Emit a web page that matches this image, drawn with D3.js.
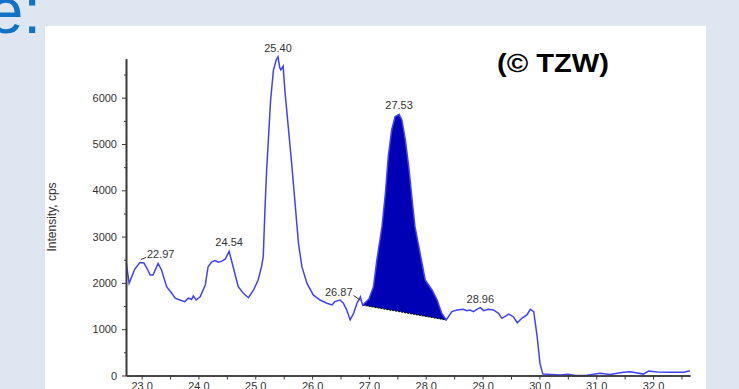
<!DOCTYPE html>
<meta charset="utf-8">
<head>
    <script src="https://d3js.org/d3.v7.min.js"></script>
    <style>
        body { margin: 0; background: #dee6f1; }
        svg { display: block; }
        .tick text { font-family: "Liberation Sans", Arial, sans-serif; font-size: 11px; fill: #333; }
    </style>
</head>
<body>
    <div id="chart"></div>
    <script>

    // retention time (min) and intensity (cps)
    var rt = [22.73, 22.78, 22.88, 22.97, 23.04, 23.10, 23.15, 23.20, 23.29, 23.35, 23.44, 23.53, 23.59, 23.65,
              23.71, 23.76, 23.82, 23.88, 23.91, 23.96, 24.03, 24.12, 24.17, 24.23, 24.29, 24.35, 24.41, 24.47,
              24.54, 24.61, 24.70, 24.79, 24.88, 24.97, 25.05, 25.11, 25.14, 25.17, 25.20, 25.23, 25.27, 25.32,
              25.37, 25.40, 25.43, 25.45, 25.49, 25.52, 25.58, 25.64, 25.70, 25.76, 25.82, 25.91, 26.02, 26.14,
              26.26, 26.35, 26.40, 26.49, 26.55, 26.61, 26.67, 26.73, 26.79, 26.85, 26.87, 26.89, 27.00, 27.08,
              27.14, 27.23, 27.29, 27.34, 27.40, 27.46, 27.53, 27.58, 27.64, 27.70, 27.76, 27.81, 27.90, 27.99,
              28.11, 28.20, 28.28, 28.36, 28.46, 28.55, 28.66, 28.72, 28.78, 28.84, 28.90, 28.96, 29.02, 29.10,
              29.19, 29.28, 29.34, 29.46, 29.54, 29.61, 29.69, 29.78, 29.84, 29.90, 29.96, 30.01, 30.06, 30.20,
              30.37, 30.50, 30.63, 30.84, 31.07, 31.24, 31.48, 31.60, 31.70, 31.83, 31.92, 32.07, 32.30, 32.54, 32.65]
    var intensity = [2430, 1990, 2300, 2440, 2430, 2300, 2170, 2170, 2420, 2280, 1920, 1775, 1670, 1640,
                     1615, 1595, 1670, 1645, 1717, 1630, 1700, 1955, 2350, 2450, 2480, 2445, 2470, 2510,
                     2680, 2350, 1920, 1775, 1680, 1847, 2063, 2350, 2560, 3575, 4440, 5087, 5950, 6600,
                     6820, 6880, 6650, 6600, 6680, 6167, 5374, 4584, 3720, 2856, 2350, 1990, 1740, 1630,
                     1560, 1523, 1595, 1630, 1560, 1415, 1200, 1345, 1560, 1700, 1600, 1520, 1650, 1918,
                     2495, 3214, 3935, 4726, 5303, 5590, 5640, 5519, 5087, 4510, 3791, 3214, 2640, 2063,
                     1847, 1630, 1344, 1200, 1380, 1415, 1430, 1400, 1415, 1380, 1430, 1465, 1400, 1430,
                     1415, 1344, 1235, 1328, 1270, 1140, 1235, 1307, 1430, 1380, 838, 263, 30, 20,
                     10, 25, 0, 5, 47, 20, 69, 82, 60, 30, 97, 75, 69, 69, 104]

    // integrated peak: baseline from start to end
    var peakStart = [26.89, 1520]
    var peakEnd = [28.36, 1200]

    // apex labels
    var peakTimes = [22.97, 24.54, 25.40, 26.87, 27.53, 28.96]
    var peakNames = ["22.97", "24.54", "25.40", "26.87", "27.53", "28.96"]

    var xTicks = [23, 24, 25, 26, 27, 28, 29, 30, 31, 32]
    var yTicks = [0, 1000, 2000, 3000, 4000, 5000, 6000]

    var width = 739, height = 389

    var svg = d3.select("#chart").append("svg")
        .attr("width", width)
        .attr("height", height)

    svg.append("rect").attr("width", width).attr("height", height).attr("fill", "#dee6f1")
    // white picture panel
    svg.append("rect").attr("x", 45).attr("y", 26).attr("width", 661).attr("height", height - 26).attr("fill", "#fff")

    // bit of slide title left of the picture
    svg.append("text")
        .attr("x", 41).attr("y", 33)
        .attr("text-anchor", "end")
        .style("font-family", "'Liberation Sans', Arial, sans-serif")
        .style("font-size", "64px")
        .attr("fill", "#1072c6")
        .text("e:")

    var x = d3.scaleLinear().domain([22.725, 32.65]).range([126, 690])
    var y = d3.scaleLinear().domain([0, 6840]).range([375.5, 58.8])

    var data = rt.map(function(t, i) { return { t: t, v: intensity[i] } })

    // filled peak area between curve and the straight baseline
    var base = d3.scaleLinear().domain([peakStart[0], peakEnd[0]]).range([peakStart[1], peakEnd[1]])
    var inPeak = data.filter(function(d) { return d.t >= peakStart[0] && d.t <= peakEnd[0] })
    svg.append("path")
        .datum(inPeak)
        .attr("fill", "#0000b4")
        .attr("d", d3.area()
            .x(function(d) { return x(d.t) })
            .y0(function(d) { return y(base(d.t)) })
            .y1(function(d) { return y(d.v) }))

    svg.append("line")
        .attr("x1", x(peakStart[0])).attr("y1", y(peakStart[1]))
        .attr("x2", x(peakEnd[0])).attr("y2", y(peakEnd[1]))
        .attr("stroke", "#111")
        .attr("stroke-width", 1.2)
        .attr("stroke-dasharray", "2,1")

    svg.append("path")
        .datum(data)
        .attr("fill", "none")
        .attr("stroke", "#4040ff")
        .attr("stroke-width", 1.5)
        .attr("d", d3.line().x(function(d) { return x(d.t) }).y(function(d) { return y(d.v) }))

    // axes
    var axisColor = "#3a3a3a"
    svg.append("g").attr("transform", "translate(126,0)")
        .call(d3.axisLeft(y).tickValues(yTicks).tickFormat(d3.format("d")).tickSize(4).tickSizeOuter(0).tickPadding(5))
    svg.append("g").attr("transform", "translate(126,0)")
        .call(d3.axisLeft(y).tickValues(d3.range(500, 7000, 1000)).tickFormat("").tickSize(2).tickSizeOuter(0))
    svg.append("g").attr("transform", "translate(0,375.5)")
        .call(d3.axisBottom(x).tickValues(xTicks).tickFormat(d3.format(".1f")).tickSize(4).tickSizeOuter(0).tickPadding(3))
    svg.append("g").attr("transform", "translate(0,375.5)")
        .call(d3.axisBottom(x).tickValues(d3.range(23.5, 32.6, 1)).tickFormat("").tickSize(4).tickSizeOuter(0))
    svg.selectAll(".domain").attr("stroke", axisColor).attr("stroke-width", 1.6)
    svg.selectAll(".tick line").attr("stroke", axisColor)

    svg.append("text")
        .attr("transform", "translate(56,217) rotate(-90)")
        .attr("text-anchor", "middle")
        .style("font-family", "'Liberation Sans', Arial, sans-serif")
        .style("font-size", "12px")
        .attr("fill", "#333")
        .text("Intensity, cps")

    // peak labels
    var lab = svg.append("g")
        .style("font-family", "'Liberation Sans', Arial, sans-serif")
        .style("font-size", "11px")
        .attr("fill", "#333")
    peakTimes.forEach(function(t, i) {
        var d = data.reduce(function(a, b) { return Math.abs(b.t - t) < Math.abs(a.t - t) ? b : a })
        var px = x(t), py = y(d.v)
        if (peakNames[i] == "22.97") {
            lab.append("line").attr("x1", px + 1).attr("y1", py - 3).attr("x2", px + 6).attr("y2", py - 5)
                .attr("stroke", "#333").attr("stroke-width", 1)
            lab.append("text").attr("x", px + 7).attr("y", py - 5).text(peakNames[i])
        } else if (peakNames[i] == "26.87") {
            lab.append("line").attr("x1", px - 1).attr("y1", py - 1).attr("x2", px - 8).attr("y2", py - 6)
                .attr("stroke", "#333").attr("stroke-width", 1)
            lab.append("text").attr("x", px - 9).attr("y", py - 5).attr("text-anchor", "end").text(peakNames[i])
        } else {
            lab.append("text").attr("x", px).attr("y", py - 5).attr("text-anchor", "middle").text(peakNames[i])
        }
    })

    svg.append("text")
        .attr("x", 497).attr("y", 72)
        .attr("textLength", 112)
        .attr("lengthAdjust", "spacingAndGlyphs")
        .style("font-family", "'Liberation Sans', Arial, sans-serif")
        .style("font-weight", "bold")
        .style("font-size", "25px")
        .attr("fill", "#000")
        .text("(© TZW)")
    </script>
</body>
